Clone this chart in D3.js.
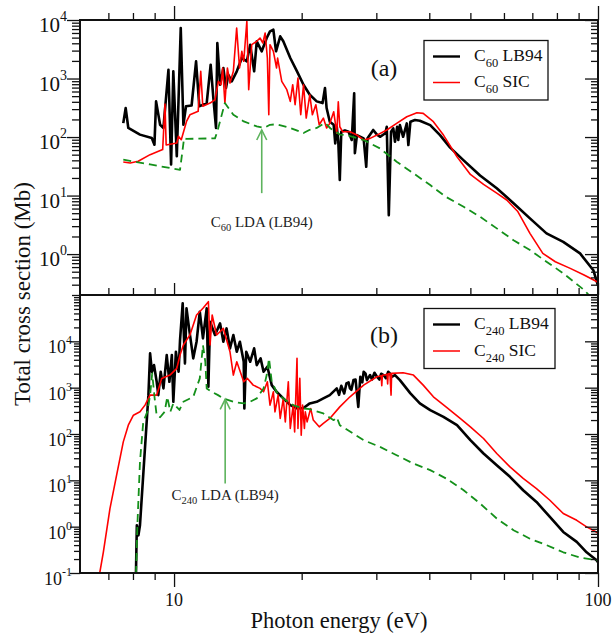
<!DOCTYPE html>
<html><head><meta charset="utf-8">
<script src="https://cdn.jsdelivr.net/npm/d3@7"></script>
<style>body{margin:0;background:#fff} svg text{font-family:'Liberation Serif','DejaVu Serif','Times New Roman',serif;}</style>
</head><body>
<svg id="c" width="613" height="635"></svg>
<script>
// ---------- DATA (photon energy eV, cross section Mb) ----------
const c60LB94 = [[7.59,173],[7.69,313],[7.80,143],[8.31,110],[8.86,96],[8.99,74],[9.07,407],[9.27,162],[9.44,143],[9.70,1413],[9.84,34],[9.96,1327],[10.15,47],[10.37,7300],[10.52,162],[10.67,335],[11.0,346],[11.27,1969],[11.47,335],[11.94,381],[12.2,1722],[12.38,464],[12.56,143],[12.65,4045],[12.84,784],[13.07,1514],[13.26,689],[13.43,1161],[13.68,896],[14.06,1327],[14.45,2240],[14.85,1969],[15.12,3784],[15.45,1327],[15.67,4325],[16.1,2917],[16.54,4924],[16.84,6410],[17.15,6820],[17.4,2917],[17.8,5263],[18.1,4325],[18.8,2240],[19.5,1327],[20.2,784],[20.9,528],[21.7,407],[22.4,380],[22.7,689],[22.9,313],[23.3,183],[23.8,162],[24.0,78],[24.2,150],[24.4,84],[24.6,18.4],[24.8,123],[25.3,130],[25.8,123],[26.25,89],[26.6,558],[26.7,53],[27.0,108],[28.0,95],[28.4,31],[28.6,95],[29.5,132],[30.1,110],[30.6,101],[31.5,116],[31.75,150],[32.1,4.6],[32.5,123],[32.9,141],[33.2,83],[33.6,150],[33.8,89],[34.1,160],[34.7,101],[35.4,171],[35.7,73],[36.1,183],[37.0,195],[38.0,190],[40.2,160],[42.4,108],[44.8,66],[48.2,40],[52.7,22],[57.7,13.3],[63.2,7.4],[69.1,4.07],[75.6,2.26],[82.8,1.62],[90.7,1.03],[97.5,0.53],[100,0.29]];
const c60SIC = [[7.59,37.4],[7.88,36],[8.23,38.6],[8.78,50],[9.40,61],[9.52,366],[9.58,73],[10.15,79],[10.24,103],[10.4,90],[10.7,185],[10.9,240],[11.4,275],[11.56,1327],[11.69,335],[12.16,381],[12.49,434],[12.72,896],[12.9,784],[13.02,1514],[13.18,381],[13.36,1514],[13.55,837],[13.8,1327],[14.05,7300],[14.27,1514],[14.45,2917],[14.6,1969],[14.85,9500],[15.0,645],[15.25,3784],[15.67,4325],[15.95,4924],[16.2,4045],[16.4,5995],[16.6,2240],[16.73,240],[16.84,3784],[17.15,2917],[17.45,1514],[17.55,2240],[17.95,896],[18.45,645],[18.8,407],[19.05,784],[19.3,357],[19.6,1020],[19.9,240],[20.2,784],[20.5,211],[20.9,528],[21.2,240],[21.6,357],[22.0,162],[22.5,211],[22.9,143],[23.3,171],[23.8,271],[24.2,116],[24.4,401],[24.6,150],[25.0,123],[26.0,123],[27.0,108],[28.0,89],[29.0,95],[30.1,108],[31.75,132],[33.5,171],[35.4,222],[37.4,260],[38.7,254],[40.9,183],[43.2,108],[46.5,46],[50.0,23],[53.7,15.5],[57.7,11],[60.9,8.4],[64.6,5.4],[69.1,2.26],[74.1,1.03],[79.3,0.74],[86,0.57],[92.7,0.44],[100,0.33]];
const c60LDA = [[7.59,41],[8.17,37.4],[8.78,34],[10.33,27.6],[10.56,96],[10.7,93],[12.49,95],[12.65,125],[13.18,381],[13.8,240],[14.6,185],[15.67,152],[16.3,143],[16.84,162],[17.45,165],[18.8,143],[20.2,117],[20.9,133],[21.7,143],[22.7,175],[23.4,140],[24.6,110],[25.5,108],[28.0,89],[30.6,64],[33.5,37.9],[36.7,24],[40.2,15.1],[43.8,9.5],[48.2,6.44],[52.7,4.35],[57.7,2.75],[63.2,1.73],[69.1,1.17],[75.6,0.74],[82.8,0.47],[93,0.24],[97,0.17]];

const c240LB94 = [[8.12,0.05],[8.17,1.07],[8.24,0.65],[8.31,1.07],[8.7,690],[8.78,5500],[8.87,2200],[8.97,3070],[9.1,1340],[9.18,690],[9.3,2200],[9.44,964],[9.61,5060],[9.75,1340],[9.88,5060],[9.96,495],[10.1,5960],[10.25,2200],[10.33,10660],[10.48,66000],[10.61,3340],[10.7,51600],[10.85,19000],[11.1,4290],[11.3,9800],[11.5,43600],[11.7,11600],[11.94,51600],[12.05,1044],[12.16,26500],[12.49,13700],[12.84,24400],[13.07,9800],[13.3,19000],[13.55,7050],[13.8,13700],[14.06,5960],[14.3,9800],[14.6,3620],[14.65,356],[14.8,5960],[15.12,3620],[15.45,7050],[15.67,3070],[16.0,4290],[16.26,2200],[16.6,2830],[17.0,1135],[17.45,815],[18.1,586],[18.8,420],[19.5,356],[20.2,365],[20.9,457],[21.7,495],[22.5,586],[23.3,690],[24.2,964],[24.5,700],[24.8,1100],[25.2,750],[25.5,1235],[25.8,1300],[26.0,964],[26.2,900],[26.5,1456],[26.8,1500],[27.2,385],[27.5,1720],[27.8,1300],[28.0,2200],[28.3,2000],[28.5,1456],[29.0,1870],[29.3,1500],[29.7,2100],[30.1,1720],[30.5,1500],[30.8,2000],[31.2,1870],[31.6,1600],[32.0,2200],[32.3,2030],[32.6,1700],[33.2,1870],[34.1,1456],[36.1,752],[38.0,457],[40.2,327],[43.2,235],[46.5,155],[50.0,73.6],[53.7,37.9],[57.7,21.2],[62.0,11.9],[66.6,6.1],[71.6,3.42],[77.0,1.62],[82.8,0.77],[89.1,0.47],[94.0,0.28],[99.1,0.19],[100,0.17]];
const c240SIC = [[6.65,0.08],[6.81,0.28],[7.06,2.46],[7.32,12.9],[7.59,67.6],[7.80,155],[8.02,255],[8.31,301],[8.54,420],[8.78,690],[9.1,690],[9.35,1585],[9.78,1870],[10.15,2610],[10.33,5060],[10.52,8320],[10.9,13700],[11.3,37000],[11.7,51600],[12.05,71700],[12.16,8320],[12.3,37000],[12.6,13700],[13.07,19000],[13.55,5960],[13.8,1870],[14.06,3620],[14.6,1340],[14.9,1585],[15.37,1135],[15.95,964],[16.26,815],[16.6,1340],[16.84,420],[17.15,815],[17.3,301],[17.6,690],[17.8,217],[18.1,586],[18.3,183],[18.6,1340],[18.8,132],[19.1,420],[19.25,111],[19.5,4290],[19.6,132],[19.8,1585],[19.95,94],[20.1,420],[20.3,132],[20.4,301],[20.6,183],[20.9,301],[21.0,356],[21.3,200],[22.0,143],[22.5,170],[23.3,217],[24.6,385],[26.0,635],[28.0,1135],[30.1,1720],[30.8,1800],[30.9,1100],[31.0,1850],[31.5,1900],[31.8,1950],[31.9,1200],[32.0,2000],[32.3,2030],[32.5,690],[32.6,2030],[34.7,2095],[36.7,1870],[38.7,1135],[40.9,635],[43.8,385],[47.3,217],[50.0,143],[53.7,80],[57.7,37.9],[62.0,19.5],[66.6,11],[71.6,6.65],[77.0,3.72],[82.8,1.92],[89.1,1.37],[94,0.99],[99.1,0.77],[100,0.72]];
const c240LDA = [[8.12,0.05],[8.17,0.4],[8.2,1.26],[8.31,25],[8.46,183],[8.65,301],[8.78,690],[8.88,2030],[9.0,586],[9.1,250],[9.27,230],[9.5,300],[9.64,635],[9.8,301],[9.96,457],[10.3,330],[10.52,495],[11.1,635],[11.5,1585],[11.7,8320],[11.85,3620],[11.94,964],[12.27,815],[12.7,690],[13.07,586],[13.8,495],[14.6,457],[15.1,495],[15.67,586],[16.26,964],[16.54,1870],[16.75,4290],[17.0,1340],[17.45,815],[18.1,586],[19.1,420],[20.2,356],[20.9,344],[22.5,278],[23.8,199],[24.2,230],[24.6,155],[28.0,73.6],[30.6,52.7],[33.5,34.9],[36.7,23],[40.2,16.6],[43.8,11],[48.2,6.1],[52.7,3.16],[57.7,1.5],[63.2,0.84],[69.1,0.55],[75.6,0.4],[82.8,0.28],[90.7,0.215],[99.1,0.19],[100,0.185]];

const xMajorTicks = [10, 100];
const xMinorTicks = [7, 8, 9, 20, 30, 40, 50, 60, 70, 80, 90];
const xTickLabels = ["10", "100"];
const topExponents = [0, 1, 2, 3, 4];
const bottomExponents = [-1, 0, 1, 2, 3, 4];
const legendTop = ["60", "60"];
const legendTopNames = ["LB94", "SIC"];
const legendBottom = ["240", "240"];
const legendBottomNames = ["LB94", "SIC"];
const panelLabels = ["(a)", "(b)"];
// annotation arrows: [energy, tip value, tail value]
const annotTop = [16.1, 132, 11];
const annotBottom = [13.2, 560, 8.5];

// ---------- DRAW ----------
const svg = d3.select('#c');
const L = 80, R = 598;
const x = d3.scaleLog().domain([6, 100]).range([L, R]);

function minorsFor(lo, hi) {
  const out = [];
  for (let e = -2; e <= 5; e++) for (let m = 2; m <= 9; m++) {
    const v = m * Math.pow(10, e);
    if (v >= lo * 0.999 && v <= hi * 1.001) out.push(v);
  }
  return out;
}

const panels = [
  { top: 20, bottom: 295, domain: [0.2, 1e4], exps: topExponents, fs: 21, sfs: 14, supDy: 11,
    lmaj: 13, lmin: 8, series: [c60LB94, c60SIC, c60LDA], id: 'a' },
  { top: 295, bottom: 573, domain: [0.1, 1e5], exps: bottomExponents, fs: 18, sfs: 12, supDy: 9,
    lmaj: 10, lmin: 6, series: [c240LB94, c240SIC, c240LDA], id: 'b' }
];

const styles = [
  { stroke: '#000', width: 2.6, dash: null },
  { stroke: '#ff0000', width: 1.6, dash: null },
  { stroke: '#14901a', width: 1.8, dash: '8,5' }
];

panels.forEach((p, pi) => {
  const y = d3.scaleLog().domain(p.domain).range([p.bottom, p.top]);
  p.y = y;
  svg.append('clipPath').attr('id', 'clip' + p.id)
    .append('rect').attr('x', L).attr('y', p.top).attr('width', R - L).attr('height', p.bottom - p.top);
  const line = d3.line().x(d => x(d[0])).y(d => y(d[1]));
  const g = svg.append('g').attr('clip-path', `url(#clip${p.id})`);
  p.series.forEach((s, si) => {
    g.append('path').datum(s).attr('d', line).attr('fill', 'none')
      .attr('stroke', styles[si].stroke).attr('stroke-width', styles[si].width)
      .attr('stroke-linejoin', 'round')
      .attr('stroke-dasharray', styles[si].dash);
  });

  const majors = p.exps.map(e => Math.pow(10, e));
  const minors = minorsFor(p.domain[0], p.domain[1]);
  const axStyle = sel => { sel.select('.domain').remove(); sel.selectAll('line').attr('stroke', '#111').attr('stroke-width', 1.3); };
  svg.append('g').attr('transform', `translate(${L},0)`).call(d3.axisLeft(y).tickValues(majors).tickSize(p.lmaj).tickFormat('')).call(axStyle);
  svg.append('g').attr('transform', `translate(${L},0)`).call(d3.axisLeft(y).tickValues(minors).tickSize(p.lmin).tickFormat('')).call(axStyle);
  svg.append('g').attr('transform', `translate(${R},0)`).call(d3.axisLeft(y).tickValues(majors).tickSize(13).tickFormat('')).call(axStyle);
  svg.append('g').attr('transform', `translate(${R},0)`).call(d3.axisLeft(y).tickValues(minors).tickSize(7).tickFormat('')).call(axStyle);
  svg.append('g').attr('transform', `translate(0,${p.top})`).call(d3.axisTop(x).tickValues(xMajorTicks).tickSize(pi === 0 ? 14 : 12).tickFormat('')).call(axStyle);
  svg.append('g').attr('transform', `translate(0,${p.top})`).call(d3.axisTop(x).tickValues(xMinorTicks).tickSize(7).tickFormat('')).call(axStyle);

  p.exps.forEach(e => {
    const t = svg.append('text').attr('x', L - (pi === 0 ? 13 : 8)).attr('y', y(Math.pow(10, e)) + 12)
      .attr('text-anchor', 'end').attr('font-size', p.fs).attr('fill', '#111');
    t.append('tspan').text('10');
    t.append('tspan').attr('font-size', p.sfs).attr('dy', -p.supDy).text(String(e));
  });

  svg.append('rect').attr('x', L).attr('y', p.top).attr('width', R - L).attr('height', p.bottom - p.top)
    .attr('fill', 'none').attr('stroke', '#111').attr('stroke-width', 2);
});

const pb = panels[1];
const axStyleB = sel => { sel.select('.domain').remove(); sel.selectAll('line').attr('stroke', '#111').attr('stroke-width', 1.3); };
svg.append('g').attr('transform', `translate(0,${pb.bottom})`).call(d3.axisBottom(x).tickValues(xMajorTicks).tickSize(14).tickFormat('')).call(axStyleB);
svg.append('g').attr('transform', `translate(0,${pb.bottom})`).call(d3.axisBottom(x).tickValues(xMinorTicks).tickSize(7).tickFormat('')).call(axStyleB);
xMajorTicks.forEach((v, i) => {
  svg.append('text').attr('x', x(v)).attr('y', 606).attr('text-anchor', 'middle')
    .attr('font-size', 18).attr('fill', '#111').text(xTickLabels[i]);
});

svg.append('text').attr('x', 339).attr('y', 628).attr('text-anchor', 'middle')
  .attr('font-size', 22.5).attr('fill', '#111').text('Photon energy (eV)');
svg.append('text').attr('transform', 'translate(30,294) rotate(-90)').attr('text-anchor', 'middle')
  .attr('font-size', 23).attr('fill', '#111').text('Total cross section (Mb)');

svg.append('text').attr('x', 384).attr('y', 76).attr('text-anchor', 'middle').attr('font-size', 24).attr('fill', '#111').text(panelLabels[0]);
svg.append('text').attr('x', 384).attr('y', 343).attr('text-anchor', 'middle').attr('font-size', 24).attr('fill', '#111').text(panelLabels[1]);

function legend(bx, by, bw, bh, subs, names, rows) {
  svg.append('rect').attr('x', bx).attr('y', by).attr('width', bw).attr('height', bh)
    .attr('fill', '#fff').attr('stroke', '#111').attr('stroke-width', 1.3);
  rows.forEach((ry, i) => {
    svg.append('line').attr('x1', bx + 9).attr('x2', bx + 36).attr('y1', ry).attr('y2', ry)
      .attr('stroke', styles[i].stroke).attr('stroke-width', i === 0 ? 2.4 : 1.5);
    const t = svg.append('text').attr('x', bx + 50).attr('y', ry + 4.5)
      .attr('font-size', 17.5).attr('fill', '#111');
    t.append('tspan').text('C');
    t.append('tspan').attr('font-size', 12.5).attr('dy', 6).text(subs[i]);
    t.append('tspan').attr('dy', -6).text('\u00a0' + names[i]);
  });
}
legend(424, 40.5, 124, 59.5, legendTop, legendTopNames, [56.5, 82.5]);
legend(424, 308.5, 131, 60, legendBottom, legendBottomNames, [324.5, 351]);

function annot(p, a, sub, textY) {
  const ax = x(a[0]), ty = p.y(a[1]), by = p.y(a[2]);
  const col = '#5db35d';
  svg.append('line').attr('x1', ax).attr('x2', ax).attr('y1', ty).attr('y2', by).attr('stroke', col).attr('stroke-width', 1.6);
  svg.append('path').attr('d', `M${ax - 5},${ty + 10}L${ax},${ty}L${ax + 5},${ty + 10}`)
    .attr('fill', 'none').attr('stroke', col).attr('stroke-width', 1.6);
  const t = svg.append('text').attr('x', ax).attr('y', textY).attr('text-anchor', 'middle')
    .attr('font-size', 15).attr('fill', '#222');
  t.append('tspan').text('C');
  t.append('tspan').attr('font-size', 10.5).attr('dy', 4).text(sub);
  t.append('tspan').attr('dy', -4).text('\u00a0LDA (LB94)');
}
annot(panels[0], annotTop, '60', 227);
annot(panels[1], annotBottom, '240', 500);
</script>
</body></html>
